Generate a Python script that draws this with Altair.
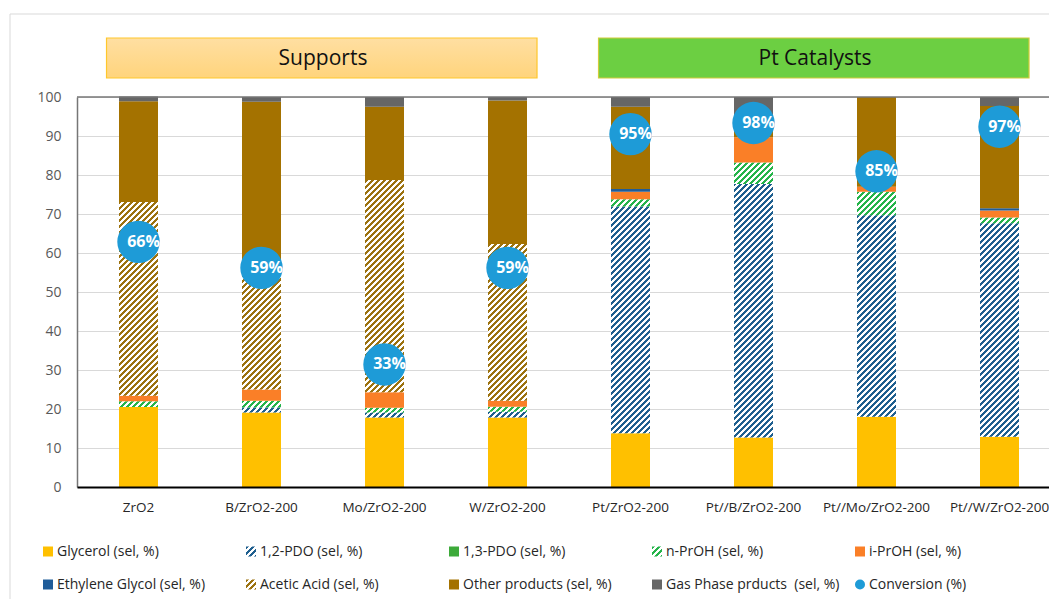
import math
import altair as alt
import pandas as pd

# ---------------- data ----------------
cats = ["ZrO2", "B/ZrO2-200", "Mo/ZrO2-200", "W/ZrO2-200",
        "Pt/ZrO2-200", "Pt//B/ZrO2-200", "Pt//Mo/ZrO2-200", "Pt//W/ZrO2-200"]
series = ["Glycerol (sel, %)", "1,2-PDO (sel, %)", "1,3-PDO (sel, %)", "n-PrOH (sel, %)",
          "i-PrOH (sel, %)", "Ethylene Glycol (sel, %)", "Acetic Acid (sel, %)",
          "Other products (sel, %)", "Gas Phase prducts \u00a0(sel, %)"]
conv_name = "Conversion (%)"

glycerol = [20.5, 19.1, 17.8, 17.8, 13.8, 12.7, 18.0, 12.9]
pdo12 = [0.0, 1.3, 1.3, 1.5, 58.1, 65.0, 51.7, 54.7]
pdo13 = [0.0, 0.0, 0.0, 0.0, 0.0, 0.0, 0.0, 0.0]
nproh = [1.5, 1.7, 1.2, 1.3, 1.9, 5.5, 6.0, 1.5]
iproh = [1.4, 2.9, 4.0, 1.5, 1.9, 6.5, 1.3, 1.8]
eglycol = [0.0, 0.0, 0.0, 0.0, 0.7, 0.0, 0.0, 0.6]
acetic = [49.7, 32.5, 54.4, 40.2, 0.0, 0.0, 0.0, 0.0]
other = [25.8, 41.3, 18.8, 36.8, 21.1, 3.3, 23.0, 26.2]
gas = [1.2, 1.2, 2.5, 0.9, 2.5, 7.0, 0.0, 2.3]
conversion = [66, 59, 33, 59, 95, 98, 85, 97]

groups = ["Supports", "Pt Catalysts"]
group_start = ["ZrO2", "Pt/ZrO2-200"]
group_end = ["W/ZrO2-200", "Pt//W/ZrO2-200"]
group_mid = ["B/ZrO2-200", "Pt//B/ZrO2-200"]

# ---------------- styles ----------------
colors = ["#FFC000", "#1F5F8F", "#3DAA3A", "#25B44A", "#FA7F27", "#1F5C99",
          "#9C720F", "#A47200", "#666666"]
conv_color = "#1E9BD7"
hatched = {"1,2-PDO (sel, %)", "n-PrOH (sel, %)", "Acetic Acid (sel, %)"}
FONT = "Open Sans"

PLOT_H = 390
BAR_W = 39
STEP = 123


def hatch(color, w, h, period=6.0, frac=0.5):
    n = max(1.0, (w + h) / period)
    stops = []
    k = int(math.ceil(n))
    for i in range(k):
        a = min(i / n, 1.0)
        b = min((i + frac) / n, 1.0)
        c = min((i + 1) / n, 1.0)
        stops += [{"offset": round(a, 5), "color": color},
                  {"offset": round(b, 5), "color": color},
                  {"offset": round(b, 5), "color": "#FFFFFF"},
                  {"offset": round(c, 5), "color": "#FFFFFF"}]
    d = w * w + h * h
    return {"gradient": "linear", "x1": 0, "y1": 0,
            "x2": round(w * (w + h) / d, 5), "y2": round(h * (w + h) / d, 5),
            "stops": stops}


values = [glycerol, pdo12, pdo13, nproh, iproh, eglycol, acetic, other, gas]
rows = []
conds = []
gid = 0
for i, c in enumerate(cats):
    for j, s in enumerate(series):
        v = values[j][i]
        if v <= 0:
            continue
        rows.append({"cat": c, "series": s, "sidx": j, "value": v, "gid": gid})
        if s in hatched:
            conds.append({"test": f"datum.gid === {gid}",
                          "value": hatch(colors[j], BAR_W, v * PLOT_H / 100.0)})
        gid += 1
df = pd.DataFrame(rows)

df_conv = pd.DataFrame({"cat": cats, "conv": conversion,
                        "label": [f"{v}%" for v in conversion]})

legend_names = series + [conv_name]
df_leg = pd.DataFrame({"name": legend_names,
                       "i": list(range(len(legend_names))),
                       "shape": ["square"] * len(series) + ["circle"]})
leg_conds = []
for j, s in enumerate(series):
    if s in hatched:
        leg_conds.append({"test": f"datum.name === '{s}'",
                          "value": hatch(colors[j], 10, 10, period=6.0)})

xscale = alt.Scale(domain=cats, range=[0, STEP * len(cats)], paddingInner=0, paddingOuter=0)
xaxis = alt.Axis(title=None, labelAngle=0, ticks=False, grid=False,
                 domainColor="#000000", domainWidth=2, labelColor="#262626",
                 labelFontSize=13.5, labelPadding=13)
color_scale = alt.Scale(domain=legend_names, range=colors + [conv_color])

# ---------------- layers ----------------
one = pd.DataFrame({"k": [0]})

border = alt.Chart(one).mark_rect(fillOpacity=0, stroke="#D9D9D9", strokeWidth=1).encode(
    x=alt.value(-67), x2=alt.value(3000), y=alt.value(-83), y2=alt.value(3000))

sup_grad = {"gradient": "linear", "x1": 0, "y1": 0, "x2": 0.001, "y2": 1,
            "stops": [{"offset": 0, "color": "#FFDFA2"}, {"offset": 1, "color": "#FFD47C"}]}
df_hdr = pd.DataFrame({"label": groups, "start": group_start, "end": group_end, "mid": group_mid})

hdr_sup = alt.Chart(df_hdr.iloc[[0]]).mark_rect(fill=sup_grad, stroke="#FFC72C", strokeWidth=1.2).encode(
    x=alt.X("start:N", bandPosition=0.24, scale=xscale, axis=xaxis),
    x2=alt.X2("end:N", bandPosition=0.74),
    y=alt.value(-59), y2=alt.value(-19))
hdr_pt = alt.Chart(df_hdr.iloc[[1]]).mark_rect(fill="#6CCF42", stroke="#D2CC3A", strokeWidth=1.2).encode(
    x=alt.X("start:N", bandPosition=0.24, scale=xscale, axis=xaxis),
    x2=alt.X2("end:N", bandPosition=0.74),
    y=alt.value(-59), y2=alt.value(-19))
hdr_txt = alt.Chart(df_hdr).mark_text(fontSize=21, color="#111111", baseline="middle", align="center").encode(
    x=alt.X("mid:N", bandPosition=1.0, scale=xscale, axis=xaxis),
    y=alt.value(-38),
    text="label:N")

bars = alt.Chart(df).mark_bar(size=BAR_W).encode(
    x=alt.X("cat:N", sort=cats, scale=xscale, axis=xaxis),
    y=alt.Y("value:Q", stack="zero", scale=alt.Scale(domain=[0, 100]),
            axis=alt.Axis(title=None, values=list(range(0, 101, 10)), ticks=False,
                          grid=True, gridColor="#D9D9D9", gridWidth=1,
                          domainColor="#767676", domainWidth=1.5,
                          labelColor="#595959", labelFontSize=14, labelPadding=16)),
    order=alt.Order("sidx:Q", sort="ascending"),
    fill=alt.Fill("series:N", scale=color_scale, legend=None, condition=conds),
)

top_rule = alt.Chart(one).mark_rule(color="#767676", strokeWidth=1.5).encode(
    y=alt.Y(datum=100, scale=alt.Scale(domain=[0, 100]), axis=None))

conv_pts = alt.Chart(df_conv).mark_circle(size=1800, opacity=1, color=conv_color).encode(
    x=alt.X("cat:N", sort=cats, scale=xscale, axis=xaxis),
    y=alt.Y("conv:Q", scale=alt.Scale(domain=[0, 105]), axis=None))
conv_txt = alt.Chart(df_conv).mark_text(color="white", fontWeight="bold", fontSize=16, dx=5,
                                        baseline="middle", align="center").encode(
    x=alt.X("cat:N", sort=cats, scale=xscale, axis=xaxis),
    y=alt.Y("conv:Q", scale=alt.Scale(domain=[0, 105]), axis=None),
    text="label:N")

leg_base = alt.Chart(df_leg).transform_calculate(
    px="(datum.i % 5) * 203 - 29",
    py="454.5 + floor(datum.i / 5) * 33",
    tx="(datum.i % 5) * 203 - 20")
leg_sym = leg_base.mark_point(filled=True, size=100, opacity=1).encode(
    x=alt.X("px:Q", scale=None, axis=None),
    y=alt.Y("py:Q", scale=None, axis=None),
    shape=alt.Shape("shape:N", scale=None, legend=None),
    fill=alt.Fill("name:N", scale=color_scale, legend=None, condition=leg_conds))
leg_txt = leg_base.mark_text(align="left", baseline="middle", fontSize=14, color="#262626").encode(
    x=alt.X("tx:Q", scale=None, axis=None),
    y=alt.Y("py:Q", scale=None, axis=None),
    text="name:N")

chart = alt.layer(
    border, hdr_sup, hdr_pt, hdr_txt, bars, top_rule, conv_pts, conv_txt, leg_sym, leg_txt
).resolve_scale(y="independent").properties(
    width=972, height=PLOT_H,
    autosize=alt.AutoSizeParams(type="none"),
    padding={"left": 69, "top": 89, "right": 0, "bottom": 112},
).configure_view(strokeWidth=0).configure_axis(
    labelFont=FONT
).configure_text(font=FONT)

chart.save("out.html", embed_options={"renderer": "svg", "actions": False})
